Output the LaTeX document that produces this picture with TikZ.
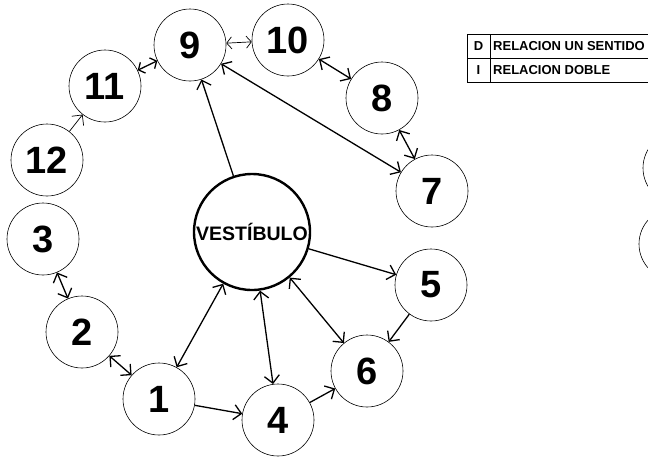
\documentclass[tikz,border=0pt]{standalone}
\usepackage{fontspec}
\setmainfont{Liberation Sans}
\usetikzlibrary{arrows.meta}

\begin{document}
\begin{tikzpicture}[x=1pt,y=-1pt,
  room/.style={circle,draw,line width=0.6pt,minimum size=72pt,inner sep=0pt,
    font=\fontsize{38}{38}\selectfont\bfseries},
  hall/.style={circle,draw,line width=2.4pt,minimum size=116pt,inner sep=0pt,
    font=\fontsize{19.5}{19.5}\selectfont\bfseries},
  key/.style={inner sep=0pt,font=\fontsize{13}{13}\selectfont\bfseries},
  barb/.tip={Straight Barb[length=7.5pt,width=15pt]},
  minibarb/.tip={Straight Barb[length=5pt,width=12pt]},
  link/.style={line width=1.3pt},
  oneway/.style={link,-barb},
  twoway/.style={link,barb-barb},
  shortway/.style={link,minibarb-minibarb},
]
\useasboundingbox (0,0) rectangle (648,456);
\clip (0,0) rectangle (648,456);

% rooms
\node[hall] (vest) at (252,232) {VESTÍBULO};
\node[room] (n9) at (190,45) {9};
\node[room] (n10) at (288,40) {10};
\node[room] (n8) at (382,98) {8};
\node[room] (n7) at (432,191) {7};
\node[room] (n5) at (431,285) {5};
\node[room] (n6) at (367,371) {6};
\node[room] (n4) at (278,420) {4};
\node[room] (n1) at (159,399) {1};
\node[room] (n2) at (82,332) {2};
\node[room] (n3) at (43,239) {3};
\node[room] (n12) at (47,160) {12};
\node[room] (n11) at (105,86) {11};

% rooms cut by the edge
\node[room] (r1) at (679,168) {};
\node[room] (r2) at (675,244) {};

% links
\draw[oneway] (vest) -- (n9);
\draw[oneway] (vest) -- (n5);
\draw[twoway] (vest) -- (n1);
\draw[twoway] (vest) -- (n4);
\draw[twoway] (vest) -- (n6);
\draw[shortway,line width=0.7pt] (n9) -- (n10);
\draw[twoway] (n10) -- (n8);
\draw[twoway] (n8) -- (n7);
\draw[twoway] (n9) -- (n7);
\draw[shortway] (n11) -- (n9);
\draw[oneway,line width=0.7pt] (n12) -- (n11);
\draw[twoway] (n3) -- (n2);
\draw[twoway] (n2) -- (n1);
\draw[oneway] (n1) -- (n4);
\draw[oneway] (n4) -- (n6);
\draw[oneway] (n5) -- (n6);

% legend
\draw[line width=0.6pt] (467,34) rectangle (700,82);
\draw[line width=0.6pt] (467,58) -- (700,58);
\draw[line width=0.6pt] (490,34) -- (490,82);
\node[key] (kd) at (478.5,46) {D};
\node[key] (ki) at (478.5,70) {I};
\node[key,anchor=west] (kdt) at (493,46) {RELACION UN SENTIDO};
\node[key,anchor=west] (kit) at (493,70) {RELACION DOBLE};
\end{tikzpicture}
\end{document}
